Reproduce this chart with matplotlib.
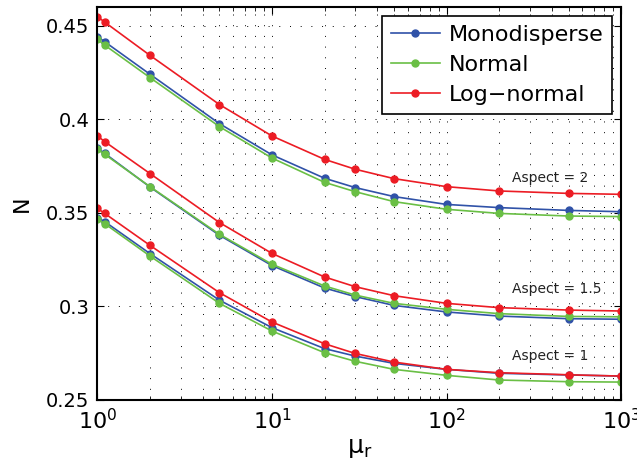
import matplotlib
matplotlib.use("Agg")
import matplotlib.pyplot as plt
from matplotlib.ticker import FormatStrFormatter, LogLocator, NullFormatter

# shared mu_r values
mu_r = [1, 1.1, 2, 5, 10, 20, 30, 50, 100, 200, 500, 1000]

# aspect = 2
mono_a2 = [0.4442, 0.4415, 0.4241, 0.3977, 0.3810, 0.3685, 0.3635, 0.3587, 0.3545, 0.3528, 0.3513, 0.3506]
norm_a2 = [0.4428, 0.4397, 0.4223, 0.3961, 0.3793, 0.3663, 0.3613, 0.3560, 0.3519, 0.3497, 0.3483, 0.3480]
logn_a2 = [0.4549, 0.4520, 0.4342, 0.4079, 0.3911, 0.3786, 0.3733, 0.3683, 0.3640, 0.3617, 0.3604, 0.3599]

# aspect = 1.5
mono_a15 = [0.3845, 0.3818, 0.3638, 0.3380, 0.3218, 0.3098, 0.3052, 0.3005, 0.2970, 0.2948, 0.2934, 0.2931]
norm_a15 = [0.3840, 0.3813, 0.3640, 0.3385, 0.3225, 0.3109, 0.3060, 0.3016, 0.2984, 0.2961, 0.2946, 0.2944]
logn_a15 = [0.3911, 0.3881, 0.3710, 0.3448, 0.3283, 0.3157, 0.3105, 0.3057, 0.3016, 0.2993, 0.2980, 0.2975]

# aspect = 1
mono_a1 = [0.3474, 0.3453, 0.3282, 0.3033, 0.2886, 0.2774, 0.2734, 0.2695, 0.2663, 0.2642, 0.2633, 0.2627]
norm_a1 = [0.3465, 0.3442, 0.3269, 0.3016, 0.2868, 0.2752, 0.2706, 0.2663, 0.2631, 0.2606, 0.2597, 0.2595]
logn_a1 = [0.3524, 0.3497, 0.3326, 0.3073, 0.2916, 0.2800, 0.2748, 0.2702, 0.2663, 0.2645, 0.2634, 0.2627]

labels = ["Monodisperse", "Normal", "Log\u2212normal"]
colors = ["#3052a8", "#6abf45", "#ec1c24"]

annot_text = ["Aspect = 2", "Aspect = 1.5", "Aspect = 1"]
annot_y = [0.3684, 0.3091, 0.2733]

groups = [(mono_a2, norm_a2, logn_a2), (mono_a15, norm_a15, logn_a15), (mono_a1, norm_a1, logn_a1)]

fig = plt.figure(figsize=(6.37, 4.76), dpi=100)
ax = fig.add_axes([0.153, 0.160, 0.822, 0.825])

for gi, grp in enumerate(groups):
    for series, lab, col in zip(grp, labels, colors):
        ax.plot(mu_r, series, "-o", color=col, lw=1.2, ms=5,
                label=lab if gi == 0 else None)

for txt, yy in zip(annot_text, annot_y):
    ax.text(237, yy, txt, fontsize=10, color="#222222", va="center", ha="left")

ax.set_xscale("log")
ax.set_xlim(1, 1000)
ax.set_ylim(0.25, 0.46)
ax.set_yticks([0.25, 0.3, 0.35, 0.4, 0.45])
ax.yaxis.set_major_formatter(FormatStrFormatter("%g"))
ax.xaxis.set_minor_locator(LogLocator(base=10, subs=range(2, 10)))
ax.xaxis.set_minor_formatter(NullFormatter())

dots = (0, (1, 10))
ax.grid(True, which="major", axis="both", color="k", linestyle=dots, lw=0.7)
ax.grid(True, which="minor", axis="x", color="k", linestyle=dots, lw=0.7)

ax.tick_params(which="both", direction="in", top=True, right=True)
ax.tick_params(which="major", length=5, labelsize=14, pad=6)
ax.tick_params(which="minor", length=3)
ax.tick_params(axis="x", labelsize=16)
for s in ax.spines.values():
    s.set_linewidth(1.5)

ax.set_xlabel(r"$\mathregular{\mu_r}$", fontsize=18, labelpad=2)
ax.set_ylabel("N", fontsize=16, labelpad=10)

leg = ax.legend(loc="upper right", fontsize=16, frameon=True, fancybox=False,
                edgecolor="k", framealpha=1, handlelength=2.2, borderpad=0.4,
                labelspacing=0.45, handletextpad=0.4, borderaxespad=0.4)
leg.get_frame().set_linewidth(1.2)

fig.savefig("out.png", dpi=100)
